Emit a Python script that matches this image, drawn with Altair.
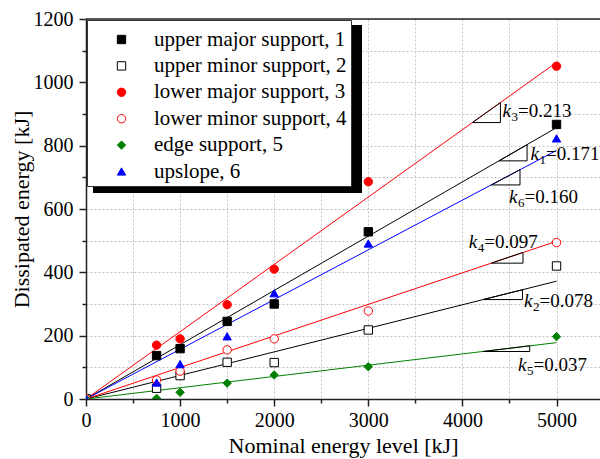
import altair as alt
import pandas as pd

# ---------------- data ----------------
series = ["upper major support, 1", "upper minor support, 2", "lower major support, 3",
          "lower minor support, 4", "edge support, 5", "upslope, 6"]
energy = [0, 750, 1000, 1500, 2000, 3000, 5000]
s1 = [0, 137, 159, 245, 300, 528, 867]
s2 = [0, 34, 74, 116, 115, 218, 420]
s3 = [0, 170, 190, 298, 410, 686, 1051]
s4 = [0, 60, 88, 155, 190, 278, 494]
s5 = [0, 2, 21, 50, 76, 102, 197]
s6 = [0, 52, 110, 198, 334, 491, 823]
values = [s1, s2, s3, s4, s5, s6]

fit_names = ["fit 1", "fit 2", "fit 3", "fit 4", "fit 5", "fit 6"]
fit_x = [0, 5000]
fit_end = [857, 372, 1063, 498, 178, 785]

k_sub = ["3", "1", "6", "4", "2", "5"]
k_val = ["=0.213", "=0.171", "=0.160", "=0.097", "=0.078", "=0.037"]
tri_x1 = [4106, 4389, 4308, 4308, 4219, 4219]
tri_x2 = [4404, 4687, 4612, 4644, 4638, 4715]
tri_ylo = [873, 752, 676, 429, 314, 150]
tri_yhi = [936, 803, 724, 463, 345, 168]
lab_x = [4425, 4723, 4495, 4067, 4655, 4591]
lab_y = [892, 756, 619, 477, 292, 87]

stroke_cols = ["#000000", "#000000", "#ff0000", "#ff0000", "#008000", "#0000ff"]
fill_cols = ["#000000", "#ffffff", "#ff0000", "#ffffff", "#008000", "#0000ff"]
shapes = ["square", "square", "circle", "circle", "diamond", "triangle-up"]
marker_sizes = [70, 70, 90, 90, 140, 150]

FONT = "Liberation Serif"

# ---------------- tables ----------------
pts = pd.DataFrame([
    {"series": s, "x": xv, "y": yv, "ord": i}
    for i, (s, vals) in enumerate(zip(series, values))
    for xv, yv in zip(energy, vals)
])
fits = pd.DataFrame([
    {"fit": f, "x": fx, "y": (0 if fx == 0 else e)}
    for f, e in zip(fit_names, fit_end) for fx in fit_x
])
tris = []
for j in range(len(k_sub)):
    corners = [(tri_x1[j], tri_ylo[j]), (tri_x2[j], tri_ylo[j]),
               (tri_x2[j], tri_yhi[j]), (tri_x1[j], tri_ylo[j])]
    for o, (cx, cy) in enumerate(corners):
        tris.append({"tri": j, "o": o, "x": cx, "y": cy})
tris = pd.DataFrame(tris)
labs = pd.DataFrame({"x": lab_x, "y": lab_y, "sub": k_sub, "val": k_val, "k": ["k"] * 6})

# ---------------- scales / axes ----------------
xscale = alt.Scale(domain=[0, 5462], nice=False, zero=False)
yscale = alt.Scale(domain=[0, 1200], nice=False, zero=False)

common_axis = dict(
    grid=True, gridDash=[2, 2], gridColor="#c4c4c4", gridWidth=1,
    domainColor="#222222", domainWidth=1.5, tickColor="#222222", tickWidth=1.5,
    labelFont=FONT, labelFontSize=20, labelColor="black",
    titleFont=FONT, titleFontSize=22, titleFontWeight="normal", titleColor="black",
    format="d", labelFlush=False, labelOverlap=False,
)
xaxis = alt.Axis(
    values=list(range(0, 5001, 500)),
    labelExpr="datum.value % 1000 === 0 ? datum.label : ''",
    tickSize={"condition": {"test": "datum.value % 1000 === 0", "value": 7}, "value": 4},
    labelPadding=4, titleY=53, titleBaseline="alphabetic",
    **common_axis,
)
yaxis = alt.Axis(
    values=list(range(0, 1201, 100)),
    labelExpr="datum.value % 200 === 0 ? datum.label : ''",
    tickSize={"condition": {"test": "datum.value % 200 === 0", "value": 7}, "value": 4},
    labelPadding=6, titleX=-58, titleBaseline="alphabetic",
    **common_axis,
)
X = alt.X("x:Q", scale=xscale, axis=xaxis, title="Nominal energy level [kJ]")
Y = alt.Y("y:Q", scale=yscale, axis=yaxis, title="Dissipated energy [kJ]")

# ---------------- layers ----------------
shadow = alt.Chart(alt.Data(values=[{}])).mark_rect(color="black").encode(
    x=alt.value(7), x2=alt.value(276), y=alt.value(6), y2=alt.value(174)
)

top_line = alt.Chart(alt.Data(values=[{}])).mark_rule(color="#222222", strokeWidth=1.5).encode(
    x=alt.value(0), x2=alt.value(514), y=alt.value(0)
)

lines = alt.Chart(fits).mark_line(strokeWidth=1, clip=True).encode(
    x=X, y=Y,
    color=alt.Color("fit:N", scale=alt.Scale(domain=fit_names, range=stroke_cols), legend=None),
    detail="fit:N",
)

triangles = alt.Chart(tris).mark_line(color="black", strokeWidth=1).encode(
    x=X, y=Y, detail="tri:N", order="o:Q"
)

leg = alt.Legend(title=" ")
points = alt.Chart(pts).mark_point(opacity=1, strokeWidth=1, clip=True).encode(
    x=X, y=Y,
    shape=alt.Shape("series:N", scale=alt.Scale(domain=series, range=shapes), legend=leg),
    fill=alt.Fill("series:N", scale=alt.Scale(domain=series, range=fill_cols), legend=leg),
    stroke=alt.Stroke("series:N", scale=alt.Scale(domain=series, range=stroke_cols), legend=leg),
    size=alt.Size("series:N", scale=alt.Scale(domain=series, range=marker_sizes), legend=leg),
    order="ord:Q",
)

k_text = alt.Chart(labs).mark_text(font=FONT, fontSize=19, fontStyle="italic", align="left",
                                   baseline="alphabetic", color="black").encode(
    x=X, y=Y, text="k:N")
sub_text = alt.Chart(labs).mark_text(font=FONT, fontSize=13, align="left", baseline="alphabetic",
                                     dx=9, dy=4, color="black").encode(
    x=X, y=Y, text="sub:N")
val_text = alt.Chart(labs).mark_text(font=FONT, fontSize=19, align="left", baseline="alphabetic",
                                     dx=15.5, color="black").encode(
    x=X, y=Y, text="val:N")

chart = alt.layer(
    shadow, lines, triangles, points, k_text, sub_text, val_text, top_line
).properties(
    width=514, height=380,
    padding={"left": 86, "top": 19, "right": 0, "bottom": 60},
    autosize=alt.AutoSizeParams(type="none"),
).configure_view(stroke=None).configure_legend(
    orient="none", legendX=1, legendY=1, zindex=5,
    fillColor="white", strokeColor="#333333",
    padding=4, symbolOffset=20, labelOffset=22,
    titleFontSize=1, titlePadding=4,
    labelFont=FONT, labelFontSize=21, labelColor="black", labelLimit=400,
    rowPadding=4.4, symbolStrokeWidth=1,
)

chart.save("out.html", embed_options={"renderer": "svg", "actions": False})
